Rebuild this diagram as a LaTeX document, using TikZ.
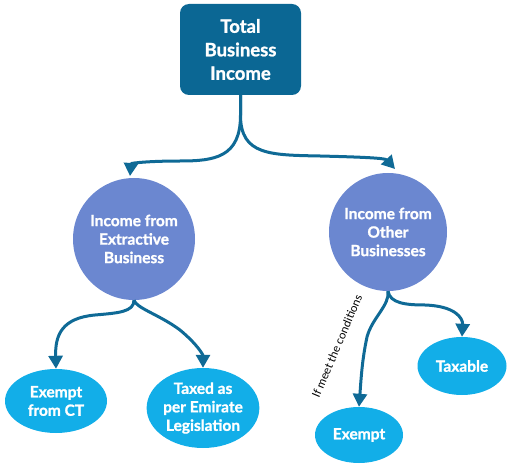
\documentclass[tikz,border=0pt]{standalone}
\usepackage{fontspec}
\setsansfont{Lato}[BoldFeatures={FakeBold=1.2}]
\usetikzlibrary{shapes.geometric,arrows.meta}
\definecolor{boxblue}{HTML}{0B6794}
\definecolor{connblue}{HTML}{0F6A96}
\definecolor{circblue}{HTML}{6B87D0}
\definecolor{ellblue}{HTML}{12AEE8}
\tikzset{
  topbox/.style={rectangle, rounded corners=9pt, fill=boxblue, text=white, minimum width=121pt, minimum height=91pt, inner sep=0pt, align=center, font=\sffamily\bfseries\fontsize{18.5}{23.5}\selectfont},
  midcirc/.style={circle, fill=circblue, text=white, inner sep=0pt, align=center, font=\sffamily\bfseries\fontsize{15.5}{18.5}\selectfont},
  leaf/.style={ellipse, fill=ellblue, text=white, inner sep=0pt, align=center, font=\sffamily\bfseries\fontsize{15.5}{18.5}\selectfont},
  conn/.style={draw=connblue, line width=3pt, -{Triangle[length=13pt,width=14pt]}},
  cond/.style={font=\sffamily\fontsize{11.5}{13}\selectfont, text=black, inner sep=0pt}
}
\begin{document}
\begin{tikzpicture}[x=1pt,y=-1pt]
\useasboundingbox (0,0) rectangle (512,468);
\node[topbox] (top) at (240.5,49.5) {Total\\Business\\Income};
\node[midcirc, minimum size=122pt] (c1) at (134,239) {Income from\\Extractive\\Business};
\node[midcirc, minimum size=118pt] (c2) at (388,232) {Income from\\Other\\Businesses};
\node[leaf, minimum width=102pt, minimum height=64pt] (e1) at (56,401) {Exempt\\from CT};
\node[leaf, minimum width=110pt, minimum height=80pt] (e2) at (203,408) {Taxed as\\per Emirate\\Legislation};
\node[leaf, minimum width=89pt, minimum height=58pt] (e3) at (462,366) {Taxable};
\node[leaf, minimum width=88pt, minimum height=56pt] (e4) at (359,435) {Exempt};
\coordinate (tl) at (130,176);
\coordinate (tr) at (395,169);
% top branches
\draw[conn] (top.south) -- ++(0,20) .. controls ++(0,42) and (215,161) .. (180,161) .. controls (150,161) and (131,163) .. (tl);
\draw[conn] (top.south) -- ++(0,20) .. controls ++(0,40) and (270,155) .. (320,156) .. controls (360,157) and (385,158) .. (tr);
% left circle branches
\draw[conn] (c1.south) .. controls (134,312) and (118,313) .. (95,315) .. controls (62,318) and (55,335) .. (e1.north);
\draw[conn] (c1.south) .. controls (136,308) and (160,315) .. (180,330) .. controls (198,345) and (203,355) .. (e2.north);
% right circle branches
\draw[conn] (c2.south) .. controls (390,305) and (372,318) .. (367,337) .. controls (362,360) and (361,380) .. (e4.north);
\draw[conn] (c2.south) .. controls (390,303) and (405,305) .. (425,305) .. controls (455,306) and (463,318) .. (e3.north);
\node[cond, rotate=67] (lbl) at (337,346) {If meet the conditions};
\end{tikzpicture}
\end{document}
